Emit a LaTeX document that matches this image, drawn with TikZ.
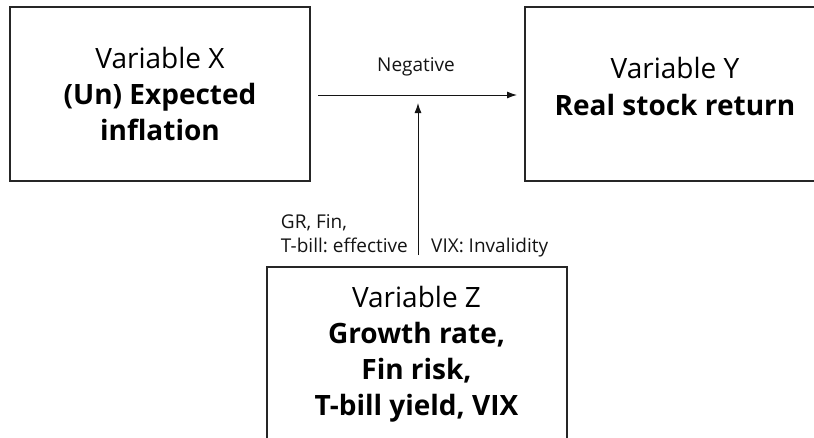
\documentclass[tikz,border=0pt]{standalone}
\usepackage{fontspec}
\setmainfont{Open Sans}
\usepackage{xcolor}
\usepackage{tikz}
\usetikzlibrary{arrows.meta,calc}
\definecolor{GrisCaja}{RGB}{38,38,38}
\definecolor{GrisFlecha}{RGB}{20,20,20}

\begin{document}
\begin{tikzpicture}[x=1pt,y=-1pt,>={Latex[length=10pt,width=7pt]},
    caja/.style={draw=GrisCaja,line width=2pt,minimum width=300pt,minimum height=174pt,
      inner sep=0pt,align=center,font=\fontsize{28}{36}\selectfont},
    texto/.style={inner sep=0pt,font=\fontsize{19}{24}\selectfont,text=GrisFlecha},
    flecha/.style={->,line width=1pt,GrisFlecha}]
  \useasboundingbox (0,0) rectangle (814,437);
  \clip (0,0) rectangle (814,437);
  \fill[white] (0,0) rectangle (814,437);
  \node[caja] (varX) at (160,94) {Variable X\\\textbf{(Un) Expected}\\\textbf{inflation}};
  \node[caja] (varY) at (675,94) {};
  \node[align=center,inner sep=0pt,font=\fontsize{28}{37}\selectfont,anchor=base] (textoY) at (675,115)
    {Variable Y\\\textbf{Real stock return}};
  \node[caja] (varZ) at (416.5,354) {Variable Z\\\textbf{Growth rate,}\\\textbf{Fin risk,}\\\textbf{T-bill yield, VIX}};
  \draw[flecha,shorten <=7pt,shorten >=7pt] (varX.east |- 0,95) -- (varY.west |- 0,95)
    coordinate[pos=0.5] (medio);
  \coordinate (punta) at (418,95);
  \draw[flecha,shorten <=11pt,shorten >=8pt] (varZ.north -| punta) -- (punta);
  \node[texto,anchor=base] (neg) at (416,71) {Negative};
  \node[texto,align=left,anchor=base east] (efect) at (408,252) {GR, Fin,\\T-bill:\ effective};
  \node[texto,anchor=base west] (invalid) at (431,252) {VIX: Invalidity};
\end{tikzpicture}
\end{document}
